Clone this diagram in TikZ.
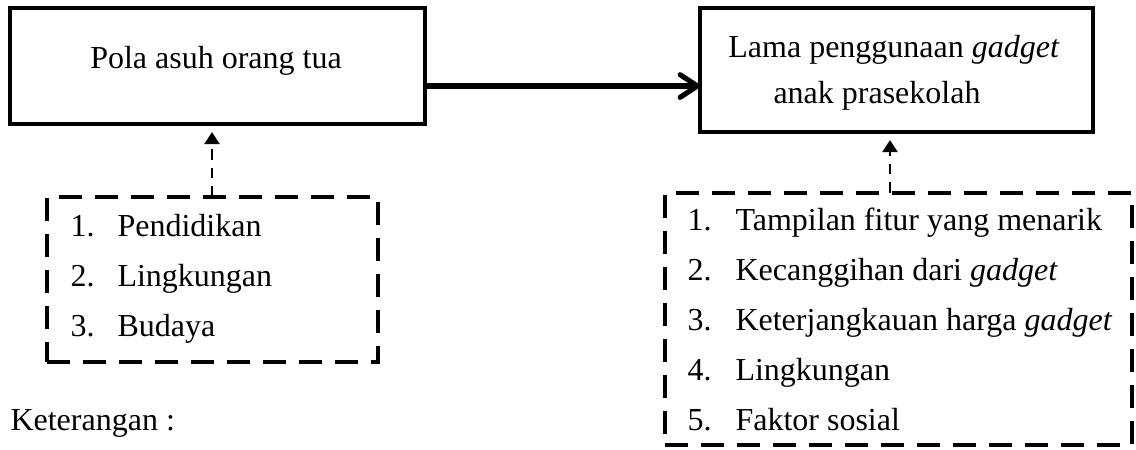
\documentclass[tikz,border=0pt]{standalone}
\usepackage{fontspec}
\setmainfont{Liberation Serif}
\usetikzlibrary{arrows.meta}
\begin{document}
\begin{tikzpicture}[x=0.375pt,y=-0.375pt,font=\fontsize{12}{14}\selectfont,
    solidbox/.style={draw,line width=1.3pt,inner sep=0pt,outer sep=0pt},
    dashbox/.style={draw,line width=1.7pt,dash pattern=on 8.5pt off 5pt,inner sep=0pt,outer sep=0pt},
    itemtext/.style={anchor=base west,inner sep=0pt},
    dashlink/.style={line width=1.1pt,dash pattern=on 4pt off 3pt,-{Triangle[length=4.5pt,width=5.5pt]},shorten >=3pt}]
    \useasboundingbox (0,0) rectangle (1136,449);

    % main variables
    \node [solidbox,minimum width=155.6pt,minimum height=43.5pt] (pola) at (217.5,66) {};
    \node [inner sep=0pt,anchor=base] (polatxt) at (216,68) {Pola asuh orang tua};

    \node [solidbox,minimum width=147.4pt,minimum height=46.5pt] (lama) at (896.5,70) {};
    \node [inner sep=0pt,anchor=base] (lamatxt1) at (894,57) {Lama penggunaan \textit{gadget}};
    \node [inner sep=0pt,anchor=base] (lamatxt2) at (877,103) {anak prasekolah};

    \draw [line width=1.9pt,-{Straight Barb[length=6.5pt,width=8.5pt,line cap=round,line join=round]}]
        (pola.east |- 0,86) -- (lama.west |- 0,86);

    % factor boxes
    \node [dashbox,minimum width=124.1pt,minimum height=61.9pt] (faktorpola) at (212.5,279.5) {};
    \foreach \num/\txt [count=\i] in {1./Pendidikan, 2./Lingkungan, 3./Budaya} {
        \node [itemtext] (pnum\i) at (70,{236+50*(\i-1)}) {\num};
        \node [itemtext] (ptxt\i) at (117,{236+50*(\i-1)}) {\txt};
    }

    \node [dashbox,minimum width=175.1pt,minimum height=94.5pt] (faktorlama) at (898.5,319) {};
    \foreach \num/\txt [count=\i] in {1./Tampilan fitur yang menarik, 2./Kecanggihan dari \textit{gadget},
        3./Keterjangkauan harga \textit{gadget}, 4./Lingkungan, 5./Faktor sosial} {
        \node [itemtext] (lnum\i) at (687,{230+50*(\i-1)}) {\num};
        \node [itemtext] (ltxt\i) at (735,{230+50*(\i-1)}) {\txt};
    }

    \draw [dashlink] (faktorpola.north -| 212,0) -- (pola.south -| 212,0);
    \draw [dashlink] (faktorlama.north -| 890,0) -- (lama.south -| 890,0);

    \node [itemtext] (ket) at (10,430) {Keterangan :};
\end{tikzpicture}
\end{document}
